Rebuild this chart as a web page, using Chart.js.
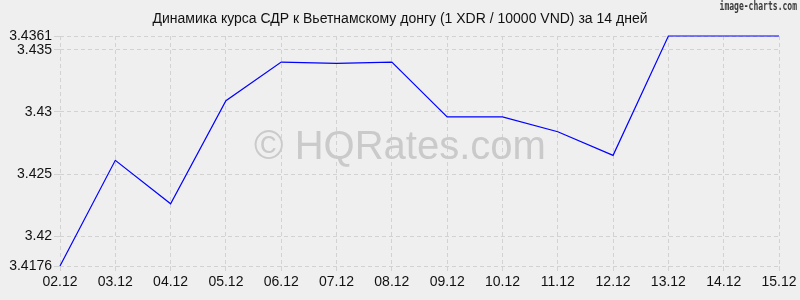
<!DOCTYPE html>
<html><head><meta charset="utf-8">
<script src="https://cdn.jsdelivr.net/npm/chart.js@4/dist/chart.umd.min.js"></script>
<style>html,body{margin:0;padding:0;background:#efefef;}#wrap{width:800px;height:300px;}</style>
</head><body><div id="wrap"><canvas id="c" width="800" height="300"></canvas></div>
<script>
const categories = ["02.12","03.12","04.12","05.12","06.12","07.12","08.12","09.12","10.12","11.12","12.12","13.12","14.12","15.12"];
const rates = [3.4176,3.4261,3.4226,3.4309,3.4340,3.4339,3.4340,3.4296,3.4296,3.4284,3.4265,3.4361,3.4361,3.4361];
const yTicks = [3.4176,3.42,3.425,3.43,3.435,3.4361];
const yTickLabels = ["3.4176","3.42","3.425","3.43","3.435","3.4361"];
const titleText = "Динамика курса СДР к Вьетнамскому донгу (1 XDR / 10000 VND) за 14 дней";
const watermark = "© HQRates.com";
const brand = "image-charts.com";

const deco = {
  id:'deco',
  beforeDraw(chart){
    const ctx = chart.ctx;
    ctx.save();
    ctx.fillStyle = '#efefef';
    ctx.fillRect(0,0,chart.width,chart.height);
    ctx.restore();
  },
  beforeDatasetsDraw(chart){
    const ctx = chart.ctx;
    ctx.save();
    ctx.fillStyle = '#cacaca';
    ctx.font = '40px "Liberation Sans", Arial, sans-serif';
    ctx.textAlign = 'center'; ctx.textBaseline = 'middle';
    ctx.fillText(watermark, 400, 148);
    ctx.restore();
  },
  afterDraw(chart){
    const ctx = chart.ctx;
    ctx.save();
    ctx.fillStyle = '#111';
    ctx.font = '14px "Liberation Sans", Arial, sans-serif';
    ctx.textAlign = 'center'; ctx.textBaseline = 'middle';
    ctx.fillText(titleText, 400, 19);
    ctx.restore();
    ctx.save();
    ctx.fillStyle = '#3a3a3a';
    ctx.font = 'bold 12px "DejaVu Sans Mono", monospace';
    ctx.textAlign = 'right'; ctx.textBaseline = 'top';
    ctx.translate(797, 1);
    ctx.scale(0.67, 1);
    ctx.fillText(brand, 0, 0);
    ctx.restore();
  }
};

new Chart(document.getElementById('c'), {
  type:'line',
  data:{labels:categories, datasets:[{data:rates, borderColor:'#0000ff', borderWidth:1.2, pointRadius:0, tension:0, fill:false, clip:false}]},
  options:{
    responsive:false, animation:false,
    layout:{padding:{top:36,right:21,left:0,bottom:0}},
    plugins:{legend:{display:false}, title:{display:false}, tooltip:{enabled:false}},
    scales:{
      x:{
        offset:false,
        grid:{color:'#d2d2d2', tickLength:5, drawTicks:true},
        border:{display:false, dash:[4,3]},
        ticks:{color:'#111', font:{family:'"Liberation Sans", Arial, sans-serif', size:14}, maxRotation:0, autoSkip:false, padding:3},
        afterFit(s){ s.height = 34; }
      },
      y:{
        min:3.4176, max:3.4361,
        grid:{color:'#d2d2d2', tickLength:6},
        border:{display:false, dash:[4,3]},
        afterBuildTicks(s){ s.ticks = yTicks.map(v=>({value:v})); },
        ticks:{color:'#111', font:{family:'"Liberation Sans", Arial, sans-serif', size:14}, padding:2,
          callback:(v)=>{ const i = yTicks.indexOf(v); return i>=0 ? yTickLabels[i] : ''; }},
        afterFit(s){ s.width = 60; }
      }
    }
  },
  plugins:[deco]
});
</script></body></html>
